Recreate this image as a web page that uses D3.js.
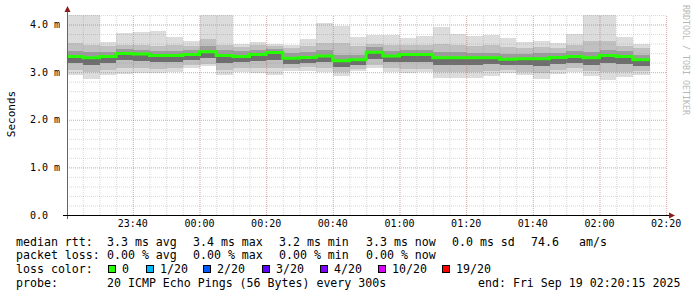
<!DOCTYPE html>
<html>
<head>
<meta charset="utf-8">
<script src="https://cdn.jsdelivr.net/npm/d3@7"></script>
<style>
  body { margin: 0; background: #fff; }
  svg { display: block; }
  text { font-family: "DejaVu Sans Mono", monospace; }
</style>
</head>
<body>
<div id="chart"></div>
<script>
// 5 minute bins, 23:20 .. 02:15 (ms)
const pingMax = [4.2, 4.2, 3.64, 3.83, 3.85, 3.87, 3.73, 3.66, 4.2, 4.2, 3.59, 3.64, 3.59, 3.57, 3.70, 4.04, 3.97, 3.73,
                 3.78, 3.77, 3.71, 3.75, 3.94, 3.80, 3.76, 3.78, 3.71, 3.64, 3.66, 3.61, 3.80, 4.2, 4.2, 3.73, 3.60];
const ping90 = [3.62, 3.58, 3.55, 3.56, 3.58, 3.55, 3.56, 3.55, 3.70, 3.58, 3.52, 3.56, 3.55, 3.50, 3.55, 3.62, 3.62, 3.55,
                3.60, 3.56, 3.58, 3.56, 3.60, 3.58, 3.55, 3.56, 3.52, 3.50, 3.52, 3.50, 3.58, 3.65, 3.65, 3.55, 3.50];
const ping75 = [3.45, 3.42, 3.43, 3.48, 3.47, 3.45, 3.45, 3.46, 3.55, 3.46, 3.44, 3.47, 3.49, 3.40, 3.42, 3.46, 3.37, 3.37,
                3.52, 3.45, 3.47, 3.46, 3.42, 3.42, 3.41, 3.41, 3.39, 3.39, 3.40, 3.41, 3.44, 3.42, 3.47, 3.44, 3.36];
const medianRtt = [3.33, 3.30, 3.33, 3.39, 3.38, 3.35, 3.35, 3.37, 3.43, 3.35, 3.33, 3.37, 3.41, 3.29, 3.31, 3.34, 3.24, 3.26,
                   3.42, 3.34, 3.37, 3.37, 3.30, 3.30, 3.30, 3.30, 3.27, 3.28, 3.28, 3.31, 3.33, 3.30, 3.35, 3.33, 3.26];
const ping25 = [3.20, 3.15, 3.20, 3.25, 3.24, 3.22, 3.22, 3.26, 3.30, 3.20, 3.21, 3.24, 3.25, 3.17, 3.19, 3.21, 3.10, 3.14,
                3.28, 3.21, 3.22, 3.22, 3.15, 3.15, 3.16, 3.17, 3.15, 3.14, 3.13, 3.18, 3.20, 3.16, 3.19, 3.18, 3.12];
const ping10 = [3.05, 3.00, 3.05, 3.08, 3.08, 3.07, 3.08, 3.14, 3.18, 3.04, 3.08, 3.09, 3.08, 3.08, 3.10, 3.08, 3.00, 3.06,
                3.14, 3.08, 3.07, 3.07, 3.00, 3.00, 3.00, 3.02, 3.04, 3.01, 2.98, 3.04, 3.08, 3.02, 3.00, 3.00, 3.02];
const pingMin = [2.93, 2.85, 2.94, 2.96, 2.98, 2.99, 3.01, 3.08, 3.12, 2.93, 3.01, 2.99, 2.93, 3.03, 3.03, 3.01, 2.92, 3.02,
                 3.08, 3.01, 2.99, 3.01, 2.87, 2.88, 2.87, 2.92, 2.99, 2.93, 2.85, 2.96, 3.01, 2.92, 2.83, 2.89, 2.95];

const yTicks = [0, 1, 2, 3, 4];
const yTickLabels = ["0.0", "1.0 m", "2.0 m", "3.0 m", "4.0 m"];

const statsRow1 = ["median rtt:", "3.3 ms avg", "3.4 ms max", "3.2 ms min", "3.3 ms now", "0.0 ms sd", "74.6", "am/s"];
const statsRow2 = ["packet loss:", "0.00 % avg", "0.00 % max", "0.00 % min", "0.00 % now"];
const lossLabels = ["0", "1/20", "2/20", "3/20", "4/20", "10/20", "19/20"];
const lossColors = ["#26ff00", "#00b8ff", "#0059ff", "#5e00ff", "#7e00ff", "#dd00ff", "#ff0000"];
const probeRow = ["probe:", "20 ICMP Echo Pings (56 Bytes) every 300s", "end: Fri Sep 19 02:20:15 2025"];

function init() {
    const w = 697, h = 297;
    const left = 67, right = 667, top = 15, bottom = 215;

    const tStart = new Date(2025, 8, 18, 23, 20, 15);
    const tEnd = new Date(2025, 8, 19, 2, 20, 15);
    const binStart = d3.timeMinute.every(5).range(new Date(2025, 8, 18, 23, 20, 0), new Date(2025, 8, 19, 2, 15, 0));

    const x = d3.scaleTime().domain([tStart, tEnd]).range([left, right]);
    const y = d3.scaleLinear().domain([0, 4.2]).range([bottom, top]);

    const svg = d3.select("#chart").append("svg").attr("width", w).attr("height", h);

    svg.append("defs").append("clipPath").attr("id", "plot")
        .append("rect").attr("x", left).attr("y", top).attr("width", right - left).attr("height", bottom - top);

    const bins = binStart.map((t, i) => ({
        x0: Math.max(x(t), left),
        x1: x(d3.timeMinute.offset(t, 5)),
        i: i
    }));

    // smoke layers, outside -> inside
    const layers = [
        { lo: pingMin, hi: pingMax, color: "#dcdcdc" },
        { lo: ping10, hi: ping90, color: "#c0c0c0" },
        { lo: medianRtt, hi: ping75, color: "#9c9c9c" },
        { lo: ping25, hi: medianRtt, color: "#6e6e6e" }
    ];
    const smoke = svg.append("g").attr("clip-path", "url(#plot)").attr("shape-rendering", "crispEdges");
    layers.forEach(l => {
        smoke.selectAll(null)
            .data(bins)
            .enter()
            .append("rect")
            .attr("x", d => d.x0)
            .attr("width", d => d.x1 - d.x0)
            .attr("y", d => y(l.hi[d.i]))
            .attr("height", d => y(l.lo[d.i]) - y(l.hi[d.i]))
            .attr("fill", l.color);
    });

    // grid (drawn over the smoke like rrdtool)
    const minorY = d3.range(0, 4.21, 0.2);
    const minorCol = "rgba(140,140,140,0.32)";
    const majorCol = "rgba(220,70,70,0.32)";
    svg.append("g")
        .attr("transform", `translate(${left},0)`)
        .call(d3.axisLeft(y).tickValues(minorY).tickSize(-(right - left)).tickFormat(""))
        .call(g => g.select(".domain").remove())
        .selectAll("line")
        .attr("stroke", minorCol)
        .attr("stroke-dasharray", "1,1");
    svg.append("g")
        .attr("transform", `translate(0,${bottom})`)
        .call(d3.axisBottom(x).ticks(d3.timeMinute.every(5)).tickSize(-(bottom - top)).tickFormat(""))
        .call(g => g.select(".domain").remove())
        .selectAll("line")
        .attr("stroke", minorCol)
        .attr("stroke-dasharray", "1,1");
    svg.append("g")
        .attr("transform", `translate(${left},0)`)
        .call(d3.axisLeft(y).tickValues(yTicks).tickSize(-(right - left)).tickFormat(""))
        .call(g => g.select(".domain").remove())
        .selectAll("line")
        .attr("stroke", majorCol)
        .attr("stroke-dasharray", "1,1");
    svg.append("g")
        .attr("transform", `translate(0,${bottom})`)
        .call(d3.axisBottom(x).ticks(d3.timeMinute.every(20)).tickSize(-(bottom - top)).tickFormat(""))
        .call(g => g.select(".domain").remove())
        .selectAll("line")
        .attr("stroke", majorCol)
        .attr("stroke-dasharray", "1,1");

    // median line (step)
    const stepPts = [];
    bins.forEach(d => {
        stepPts.push([d.x0, y(medianRtt[d.i])]);
        stepPts.push([d.x1, y(medianRtt[d.i])]);
    });
    svg.append("path")
        .attr("d", d3.line()(stepPts))
        .attr("fill", "none")
        .attr("stroke", lossColors[0])
        .attr("stroke-width", 3);

    // axes
    svg.append("line")
        .attr("x1", left + 0.5).attr("x2", left + 0.5)
        .attr("y1", bottom + 4).attr("y2", 10)
        .attr("stroke", "#666");
    svg.append("line")
        .attr("x1", left - 4).attr("x2", right + 4)
        .attr("y1", bottom + 0.5).attr("y2", bottom + 0.5)
        .attr("stroke", "#000");
    svg.append("path")
        .attr("d", `M${left + 0.5},6 L${left - 2.5},12 L${left + 3.5},12 Z`)
        .attr("fill", "#8b1a1a");
    svg.append("path")
        .attr("d", `M${right + 8},${bottom + 0.5} L${right + 2},${bottom - 2.5} L${right + 2},${bottom + 3.5} Z`)
        .attr("fill", "#8b1a1a");

    // tick labels
    svg.append("g").selectAll("text")
        .data(yTicks)
        .enter()
        .append("text")
        .attr("x", 30)
        .attr("y", d => y(d) + 3.6)
        .attr("font-size", "10px")
        .attr("fill", "#000")
        .text((d, i) => yTickLabels[i]);

    svg.append("g").selectAll("text")
        .data(x.ticks(d3.timeMinute.every(20)))
        .enter()
        .append("text")
        .attr("x", d => x(d))
        .attr("y", 227)
        .attr("text-anchor", "middle")
        .attr("font-size", "10px")
        .attr("fill", "#000")
        .text(d => d3.timeFormat("%H:%M")(d));

    svg.append("text")
        .attr("transform", "translate(15,114) rotate(-90)")
        .attr("text-anchor", "middle")
        .attr("font-size", "11px")
        .attr("fill", "#000")
        .text("Seconds");

    svg.append("text")
        .attr("transform", "translate(683,5) rotate(90)")
        .attr("font-size", "8.3px")
        .attr("fill", "#b8b8b8")
        .text("RRDTOOL / TOBI OETIKER");

    // legend
    const fs = "11.6px";
    const row1X = [16, 107, 193, 279, 366, 452, 531, 579];
    const row2X = [16, 107, 193, 279, 366];
    const boxX = [108, 146, 203, 262, 320, 378, 442];
    const probeX = [16, 107, 478];

    const legend = svg.append("g").attr("font-size", fs).attr("fill", "#000").style("white-space", "pre");
    statsRow1.forEach((s, i) => legend.append("text").attr("x", row1X[i]).attr("y", 245.5).text(s));
    statsRow2.forEach((s, i) => legend.append("text").attr("x", row2X[i]).attr("y", 259).text(s));
    legend.append("text").attr("x", 16).attr("y", 273).text("loss color:");
    lossLabels.forEach((s, i) => {
        legend.append("rect")
            .attr("x", boxX[i] + 0.5).attr("y", 265.5)
            .attr("width", 7).attr("height", 7)
            .attr("fill", lossColors[i])
            .attr("stroke", "#000");
        legend.append("text").attr("x", boxX[i] + 14).attr("y", 273).text(s);
    });
    probeRow.forEach((s, i) => legend.append("text").attr("x", probeX[i]).attr("y", 287).text(s));
}

window.onload = init;
</script>
</body>
</html>
